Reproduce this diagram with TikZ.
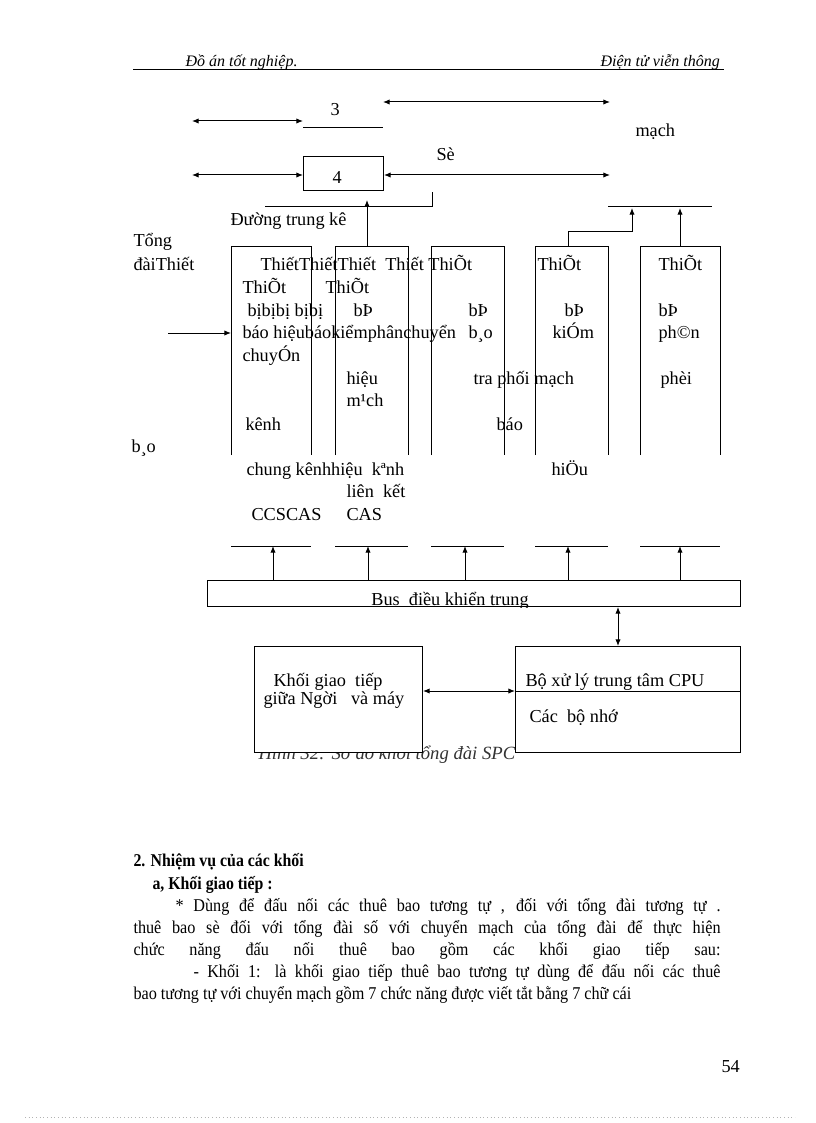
\documentclass[tikz,border=0pt]{standalone}
\usepackage{fontspec}
\usepackage{graphicx}
\setmainfont{Liberation Serif}
\usetikzlibrary{arrows.meta}
\newcommand\myline[2]{\scalebox{0.9}[1]{\makebox[#1][s]{#2}}}
\newcommand\mysq[1]{\scalebox{0.9}[1]{#1}}
\begin{document}
\begin{tikzpicture}[x=0.75pt,y=-0.75pt,line width=0.75pt,
  arr/.style={-{Latex[length=5pt,width=4pt]}},
  darr/.style={{Latex[length=5pt,width=4pt]}-{Latex[length=5pt,width=4pt]}},
  txt/.style={anchor=base west,inner sep=0pt,font=\fontsize{13.7}{15}\selectfont},
  ctxt/.style={anchor=base,inner sep=0pt,font=\fontsize{13.7}{15}\selectfont},
  ptxt/.style={anchor=base west,inner sep=0pt,font=\fontsize{13.5}{15}\selectfont},
  hdr/.style={anchor=base west,inner sep=0pt,font=\fontsize{12}{14}\selectfont\itshape},
  btxt/.style={anchor=base west,inner sep=0pt,font=\fontsize{13.5}{15}\selectfont\bfseries},
  box/.style={draw,fill=white,inner sep=0pt}]
\useasboundingbox[fill=white] (0,0) rectangle (816,1123);

% header
\node[hdr] (h1) at (185,67) {Đồ án tốt nghiệp.};
\node[hdr] (h2) at (600,67) {Điện tử viễn thông};
\coordinate (ul1) at (133,70); \coordinate (ul2) at (724,70);
\draw (ul1) -- (ul2);

% top part
\coordinate (a1) at (192,121); \coordinate (a2) at (303,121);
\draw[darr] (a1) -- (a2);
\node[txt] (n3) at (330,116) {3};
\coordinate (u1) at (303,128); \coordinate (u2) at (383,128);
\draw (u1) -- (u2);
\coordinate (t1) at (383,102); \coordinate (t2) at (610,102);
\draw[darr] (t1) -- (t2);
\node[txt] (mach) at (635,137) {mạch};
\node[box,minimum width=60pt,minimum height=25.5pt,anchor=north west] (b4) at (303,156) {};
\node[txt] (n4) at (332,184) {4};
\coordinate (l1) at (192,175);
\draw[darr] (l1) -- (b4.west |- l1);
\coordinate (r1) at (610,175);
\draw[darr] (b4.east |- r1) -- (r1);
\node[txt] (se) at (436,161) {Sè};
\coordinate (tk1) at (265,207); \coordinate (tk2) at (432,207); \coordinate (tk3) at (432,192);
\draw (tk1) -- (tk2) -- (tk3);
\node[txt] (dtk) at (230,225) {Đường trung kê};
\coordinate (rb1) at (608,207); \coordinate (rb2) at (712,207);
\draw (rb1) -- (rb2);

% columns (open at bottom)
\foreach \l/\r/\n in {231/311/c1,335/408/c2,431/504/c3,535/608/c4,640/720/c5}{
  \draw (\l,455) -- (\l,246) -- (\r,246) -- (\r,455);
  \coordinate (\n) at ({(\l+\r)/2},246);
  \draw (\l,546) -- (\r,546);
}
\draw[arr] (367,246) -- (367,200);
\draw (568,246) -- (568,232) -- (632,232);
\draw[arr] (632,232) -- (632,208);
\draw[arr] (680,246) -- (680,208);

% column texts
\node[txt] at (133,247) {Tổng};
\node[txt] at (133,270) {đàiThiết};
\node[txt] at (260,270) {ThiếtThiếtThiết\ \ Thiết ThiÕt};
\node[txt] at (537,270) {ThiÕt};
\node[txt] at (658,270) {ThiÕt};
\node[txt] at (242,293) {ThiÕt};
\node[txt] at (325,293) {ThiÕt};
\node[txt] at (247,316) {bịbịbị bịbị};
\node[txt] at (353,316) {bÞ};
\node[txt] at (468,316) {bÞ};
\node[txt] at (564,316) {bÞ};
\node[txt] at (658,316) {bÞ};
\node[txt] at (242,338) {báo hiệubáokiểmphânchuyển};
\node[txt] at (468,338) {b¸o};
\node[txt] at (552,338) {kiÓm};
\node[txt] at (658,338) {ph©n};
\node[txt] at (242,361) {chuyÓn};
\node[txt] at (346,384) {hiệu};
\node[txt] at (473,384) {tra phối mạch};
\node[txt] at (660,384) {phèi};
\node[txt] at (346,406) {m¹ch};
\node[txt] at (245,430) {kênh};
\node[txt] at (496,430) {báo};
\node[txt] at (131,452) {b¸o};
\node[txt] at (246,475) {chung kênhhiệu\ \ kªnh};
\node[txt] at (551,475) {hiÖu};
\node[txt] at (346,497) {liên\ \ kết};
\node[txt] at (251,520) {CCSCAS};
\node[txt] at (346,520) {CAS};
\coordinate (in1) at (168,333);
\draw[arr] (in1) -- (231,333);

% bus
\node[box,minimum width=399.75pt,minimum height=19.5pt,anchor=north west] (bus) at (207,580) {};
\begin{scope}
  \clip (bus.south west) rectangle (bus.north east);
  \node[ctxt] (bustxt) at (450,605) {Bus\ \ điều khiển trung};
\end{scope}
\foreach \x in {273,368,465,568,680}{
  \draw[arr] (\x,580) -- (\x,546);
}

% caption (partly hidden)
\node[anchor=base west,inner sep=0pt,font=\fontsize{14}{16}\selectfont\itshape,text=black!80] (cap) at (258,759) {Hình 32: Sơ đồ khối tổng đài SPC};

% lower boxes
\node[box,minimum width=126pt,minimum height=79.5pt,anchor=north west] (hmi) at (254,646) {};
\node[txt] at (273,686) {Khối giao\ \ tiếp};
\node[txt] at (263,704) {giữa Ngời \ \ và máy};
\node[box,minimum width=168.75pt,minimum height=79.5pt,anchor=north west] (cpu) at (515,646) {};
\coordinate (dv) at (515,691);
\draw (dv) -- (cpu.east |- dv);
\node[txt] at (525,686) {Bộ xử lý trung tâm CPU};
\node[txt] at (529,722) {Các\ \ bộ nhớ};
\draw[darr] (hmi.east |- dv) -- (dv);
\draw[darr] (bus.south -| 618,0) -- (cpu.north -| 618,0);

% body text
\node[btxt] at (133,866) {\scalebox{0.88}[1]{2. Nhiệm vụ của các khối}};
\node[btxt] at (152,889) {\scalebox{0.88}[1]{a, Khối giao tiếp :}};
\node[ptxt] at (175,911) {\myline{454.2pt}{* Dùng để đấu nối các thuê bao tương tự , đối với tổng đài tương tự .}};
\node[ptxt] at (133,933) {\myline{489.2pt}{thuê bao sè đối với tổng đài số với chuyển mạch của tổng đài để thực hiện}};
\node[ptxt] at (133,955) {\myline{489.2pt}{chức năng đấu nối thuê bao gồm các khối giao tiếp sau:}};
\node[ptxt] at (193,977) {\myline{439.2pt}{- Khối 1: là khối giao tiếp thuê bao tương tự dùng để đấu nối các thuê}};
\node[ptxt] at (133,999) {\mysq{bao tương tự với chuyển mạch gồm 7 chức năng được viết tắt bằng 7 chữ cái}};

\node[txt] (pg) at (721,1072) {54};
\draw[dotted,black!30] (25,1117) -- (795,1117);
\end{tikzpicture}
\end{document}
